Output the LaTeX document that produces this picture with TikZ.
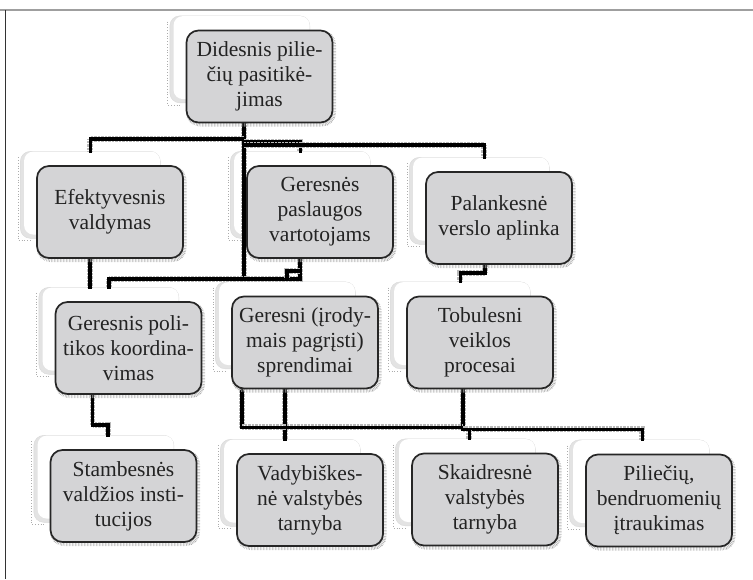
\documentclass[tikz,border=0pt]{standalone}
\usepackage{fontspec}
\setmainfont{Liberation Serif}
\usetikzlibrary{calc}
\pgfdeclarelayer{bg}
\pgfdeclarelayer{fg}
\pgfsetlayers{bg,main,fg}
\definecolor{boxfill}{RGB}{212,212,214}
\definecolor{txt}{RGB}{35,35,35}
\begin{document}
\begin{tikzpicture}[x=1pt,y=-1pt,
  front/.style={draw=black!85, line width=1.7pt, fill=boxfill, rounded corners=12pt,
    minimum width=146pt, minimum height=92pt, align=center, inner sep=0pt,
    font=\fontsize{21.5}{25}\selectfont, text=txt,
    preaction={draw=gray!60, line width=4pt, dash pattern=on .6pt off .9pt,
      transform canvas={xshift=1.5pt,yshift=-2pt}}},
  backbox/.style={fill=gray!22, draw=gray!30, line width=0.4pt, rounded corners=10pt,
    minimum width=140pt, minimum height=87pt, inner sep=0pt, anchor=north west},
  conn/.style={line width=3.4pt, black, line cap=rect,
    preaction={draw=gray!55, line width=5.8pt, dash pattern=on .6pt off .8pt}}]
\useasboundingbox (0,0) rectangle (753,579);
% frame
\draw[gray!75, line width=2pt] (0,10) -- (753,10);
\draw[black!80, line width=0.8pt] (5,10) -- (5,579);

\begin{pgfonlayer}{fg}
\node[front] (top)   at (259.5,76.5) {Didesnis pilie-\\čių pasitikė-\\jimas};
\node[front] (eff)   at (110,212)    {Efektyvesnis\\valdymas};
\node[front] (pasl)  at (320,212)    {Geresnės\\paslaugos\\vartotojams};
\node[front] (pal)   at (499,218)    {Palankesnė\\verslo aplinka};
\node[front] (koord) at (128.5,348)  {Geresnis poli-\\tikos koordina-\\vimas};
\node[front] (spr)   at (305,342.5)  {Geresni (įrody-\\mais pagrįsti)\\sprendimai};
\node[front] (tob)   at (480,342.5)  {Tobulesni\\veiklos\\procesai};
\node[front] (stamb) at (123.5,496)  {Stambesnės\\valdžios insti-\\tucijos};
\node[front] (vad)   at (310,500)    {Vadybiškes-\\nė valstybės\\tarnyba};
\node[front] (skaid) at (485,499.5)  {Skaidresnė\\valstybės\\tarnyba};
\node[front] (pil)   at (659,500.5)  {Piliečių,\\bendruomenių\\įtraukimas};
\end{pgfonlayer}

\begin{pgfonlayer}{bg}
\foreach \n in {top,eff,pasl,pal,koord,spr,tob,stamb,vad,skaid,pil}{
  \node[backbox] (b\n) at ($(\n.north west)+(-16,-14)$) {};
  \fill[white, rounded corners=9pt] ($(b\n.north west)+(4,0.5)$) rectangle ($(b\n.south east)+(-0.5,-4)$);
  \draw[gray!65, line width=0.8pt, dash pattern=on .6pt off 2.2pt]
    ($(b\n.north west)+(-2,6)$) -- ($(b\n.south west)+(-2,2)$) -- ($(b\n.south west)+(10,2)$);
}
\end{pgfonlayer}

% connectors
\coordinate (ta) at (244,139);
\coordinate (tb) at (244,142);
\coordinate (tc) at (244,145);
\coordinate (tj) at (244,277);
\draw[conn] (top.south -| tj) -- (tj);
\draw[conn] (ta) -| (beff.north);
\draw[conn] (tb) -| (bpasl.north);
\draw[conn] (tc) -| ($(bpal.north)+(5,0)$);

\draw[conn] ($(pal.south)+(-14,0)$) -- ++(0,8) -| (btob.north);

\draw[conn] ($(eff.south)+(-20,0)$) coordinate (e1) -- (e1 |- bkoord.north);
\draw[conn] ($(pasl.south)+(-20,0)$) -- ++(0,20) coordinate (p1) -| (bkoord.north);
\draw[conn] ($(pasl.south)+(-20,12)$) -- ++(-13,0) -- ++(0,8);

\draw[conn] ($(koord.south)+(-36,0)$) -- ++(0,30) -| ($(bstamb.north)+(4,0)$);

\draw[conn] ($(spr.south)+(-63,0)$) -- ++(0,38) coordinate (s1);
\draw[conn] ($(spr.south)+(-20,0)$) coordinate (s2) -- (s2 |- bvad.north);
\draw[conn] ($(tob.south)+(-17,0)$) -- ++(0,38) coordinate (u1);
\draw[conn] (s1) -- (u1);
\draw[conn] ($(u1)+(0,2)$) -| ($(bpil.north)+(3,0)$);
\draw[conn] ($(u1)+(0,2)$) -| ($(bskaid.north)+(4,0)$);
\end{tikzpicture}
\end{document}
